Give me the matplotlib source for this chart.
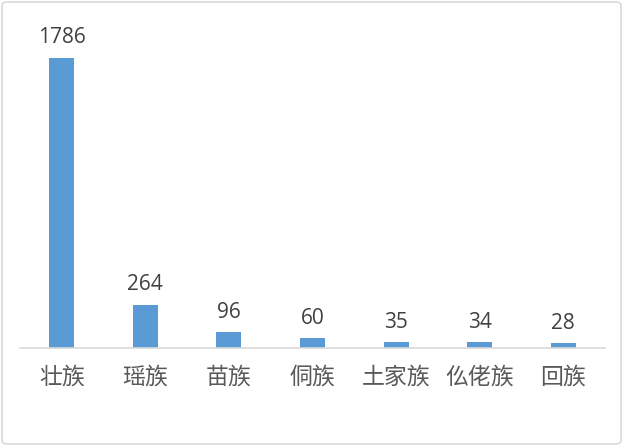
import matplotlib
matplotlib.use("Agg")
import matplotlib.pyplot as plt
from matplotlib.patches import FancyBboxPatch

categories = ["壮族", "瑶族", "苗族", "侗族", "土家族", "仫佬族", "回族"]
values = [1786, 264, 96, 60, 35, 34, 28]

W, H = 623, 446
fig = plt.figure(figsize=(W / 100, H / 100), dpi=100)
ax = fig.add_axes([20 / W, (H - 348) / H, 585 / W, 325 / H])

x = list(range(len(categories)))
ax.bar(x, values, width=0.3, color="#5B9BD5", zorder=2)
ax.set_xlim(-0.5, len(categories) - 0.5)
ax.set_ylim(0, 2000)

for xi, v in zip(x, values):
    ax.annotate(str(v), (xi, v), xytext=(0, 7), textcoords="offset points",
                ha="center", va="bottom", fontsize=15, color="#404040",
                family=["Open Sans", "DejaVu Sans"])

ax.set_xticks(x)
ax.set_xticklabels(categories, fontsize=16.5, color="#595959",
                   family=["Noto Sans CJK SC", "DejaVu Sans"])
ax.tick_params(axis="x", length=0, pad=13)
ax.set_yticks([])
for s in ["top", "right", "left"]:
    ax.spines[s].set_visible(False)
ax.spines["bottom"].set_color("#D9D9D9")
ax.spines["bottom"].set_linewidth(1.2)

border = FancyBboxPatch((2 / W, 2 / H), (W - 4) / W, (H - 4) / H,
                        boxstyle="round,pad=0,rounding_size=0.008",
                        transform=fig.transFigure, fill=False,
                        edgecolor="#D9D9D9", linewidth=1.2)
fig.patches.append(border)

fig.savefig("out.png", dpi=100)
